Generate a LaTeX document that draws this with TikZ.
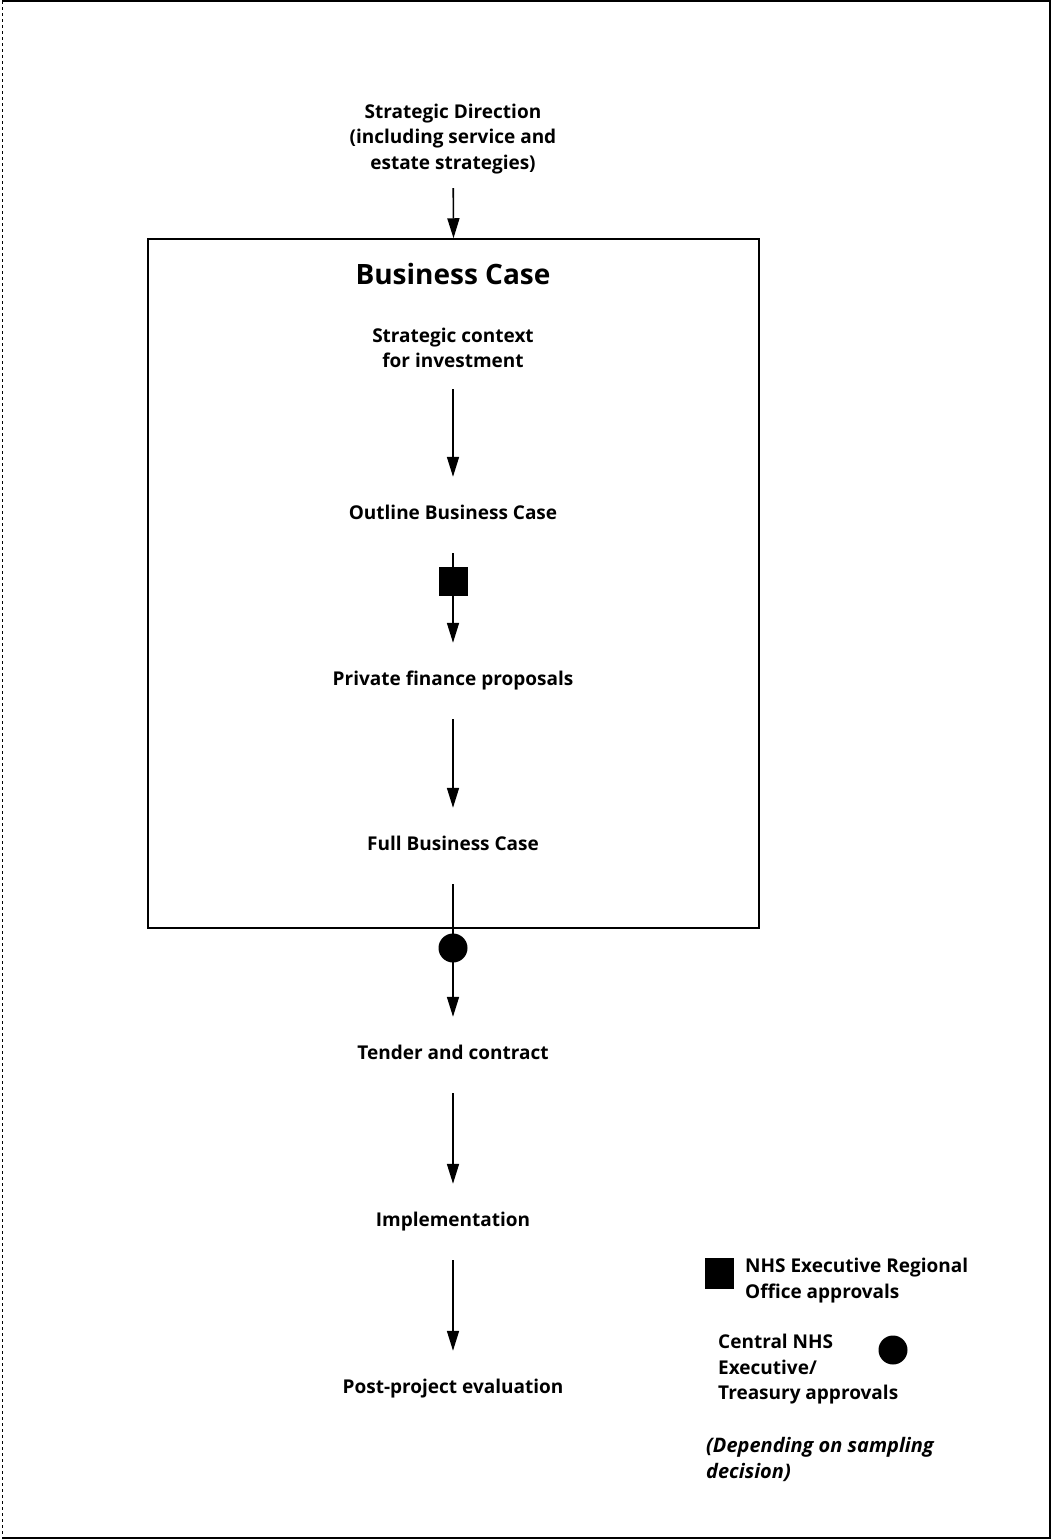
\documentclass[tikz,border=0pt]{standalone}
\usepackage{fontspec}
\setmainfont{Open Sans}
\usetikzlibrary{arrows.meta}

\begin{document}
\begin{tikzpicture}[x=1pt, y=-1pt,
    stage/.style={align=center, inner sep=0pt,
        font=\fontsize{19}{25.5}\selectfont\bfseries},
    single/.style={stage, text height=12pt, text depth=4pt},
    legend/.style={align=left, inner sep=0pt, anchor=west,
        font=\fontsize{19}{25.5}\selectfont\bfseries},
    flow/.style={line width=1.6pt, shorten <=30pt, shorten >=30pt,
        -{Triangle[length=20pt, width=12pt]}},
    regional/.style={rectangle, fill=black, inner sep=0pt,
        minimum width=29pt, minimum height=29pt},
    central/.style={circle, fill=black, inner sep=0pt, minimum size=29pt}
]
    \useasboundingbox (0,0) rectangle (1052,1540);
    % page frame
    \draw[line width=1.5pt] (2,1) -- (1050,1) -- (1050,1538) -- (2,1538);
    \draw[line width=0.8pt, dashed] (2,1) -- (2,1538);

    \node[stage] (sd) at (453,139) {Strategic Direction\\(including service and\\estate strategies)};
    \node[draw, line width=1.5pt, minimum width=611pt, minimum height=689pt,
        inner sep=0pt] (bc) at (453.5,583.5) {};
    \node[font=\fontsize{28}{32}\selectfont\bfseries, inner sep=0pt] (title) at (453,274) {Business Case};
    \node[stage] (ctx) at (453,348) {Strategic context\\for investment};
    \node[single] (obc) at (453,515) {Outline Business Case};
    \node[single] (pfp) at (453,681) {Private finance proposals};
    \node[single] (fbc) at (453,846) {Full Business Case};
    \node[single] (tc) at (453,1055) {Tender and contract};
    \node[single] (impl) at (453,1222) {Implementation};
    \node[single] (ppe) at (453,1389) {Post-project evaluation};

    \draw[flow, shorten <=14pt, shorten >=0pt] (sd) -- (bc.north);
    \draw[flow, shorten <=21pt] (ctx) -- (obc);
    \draw[flow] (obc) -- (pfp);
    \draw[flow] (pfp) -- (fbc);
    \draw[flow] (fbc) -- (tc);
    \draw[flow] (tc) -- (impl);
    \draw[flow] (impl) -- (ppe);

    \node[regional] (sq) at (453,581) {};
    \node[central] (dot) at (453,948) {};

    % key
    \node[regional, minimum height=31pt] (keysq) at (719.5,1273.5) {};
    \node[legend] (keyro) at (745,1280.5) {NHS Executive Regional\\Office approvals};
    \node[central] (keydot) at (893,1350) {};
    \node[legend] (keyce) at (718,1369.5) {Central NHS\\Executive/\\Treasury approvals};
    \node[legend, font=\fontsize{20}{25.5}\selectfont\bfseries\itshape] (keynote) at (706,1459.5) {(Depending on sampling\\decision)};
\end{tikzpicture}
\end{document}
